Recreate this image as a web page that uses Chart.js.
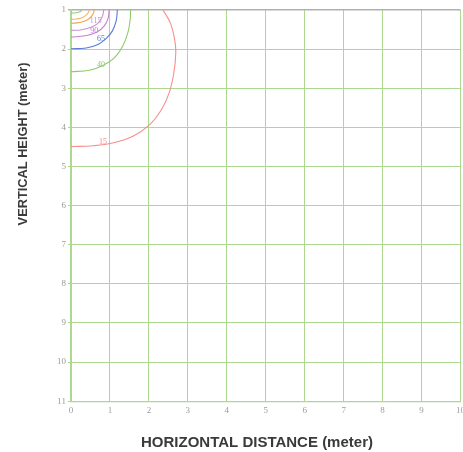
<!DOCTYPE html>
<html>
<head>
<meta charset="utf-8">
<script src="https://cdn.jsdelivr.net/npm/chart.js@4.4.1/dist/chart.umd.min.js"></script>
<style>
  html, body { margin: 0; padding: 0; background: #fff; overflow: hidden; }
  #wrap { width: 469px; height: 452px; }
</style>
</head>
<body>
<div id="wrap"><canvas id="isoChart"></canvas></div>
<script>
// contour values, one per curve, outer to inner
const levels = [15, 40, 65, 90, 115, 140, 165, 190];
const lineColors = ["#f48f8a", "#8ccc6a", "#5b7bd5", "#c67fd2", "#c990d6", "#f2a64e", "#f5b46a", "#93cf72"];

// curve points (x = distance, y = height)
const curveX = [
  [2.36, 2.55, 2.66, 2.69, 2.64, 2.52, 2.32, 2.02, 1.59, 1.07, 0.56, 0],
  [1.53, 1.52, 1.46, 1.33, 1.12, 0.82, 0.47, 0],
  [1.19, 1.16, 1.06, 0.90, 0.69, 0.39, 0],
  [0.98, 0.95, 0.85, 0.67, 0.36, 0],
  [0.84, 0.80, 0.69, 0.50, 0.25, 0],
  [0.60, 0.55, 0.43, 0.22, 0],
  [0.47, 0.42, 0.30, 0.15, 0],
  [0.28, 0.24, 0.14, 0]
];
const curveY = [
  [1.0, 1.33, 1.75, 2.09, 2.61, 3.12, 3.55, 3.93, 4.23, 4.40, 4.47, 4.49],
  [1.0, 1.24, 1.58, 1.92, 2.22, 2.42, 2.54, 2.58],
  [1.0, 1.28, 1.54, 1.73, 1.88, 1.97, 1.99],
  [1.0, 1.22, 1.41, 1.56, 1.66, 1.69],
  [1.0, 1.18, 1.34, 1.45, 1.51, 1.52],
  [1.0, 1.13, 1.25, 1.32, 1.34],
  [1.0, 1.10, 1.19, 1.23, 1.24],
  [1.0, 1.04, 1.07, 1.08]
];

// where the value labels sit on the outer curves
const labelX = [0.82, 0.77, 0.77, 0.60, 0.63];
const labelY = [4.38, 2.41, 1.75, 1.54, 1.28];

const xTicks = [0, 1, 2, 3, 4, 5, 6, 7, 8, 9, 10];
const yTicks = [1, 2, 3, 4, 5, 6, 7, 8, 9, 10, 11];

const xTitle = "HORIZONTAL DISTANCE (meter)";
const yTitle = "VERTICAL HEIGHT (meter)";

const gridGreen = "#acd98f";

const datasets = levels.map((lv, i) => ({
  label: String(lv),
  data: curveX[i].map((x, j) => ({ x: x, y: curveY[i][j] })),
  showLine: true,
  borderColor: lineColors[i],
  borderWidth: 1.1,
  pointRadius: 0,
  tension: 0.4,
  fill: false
}));

// value labels on the curves and the two axis titles
const annotations = {
  id: "annotations",
  afterDatasetsDraw(chart) {
    const { ctx, scales, chartArea } = chart;
    ctx.save();
    ctx.font = "8px 'Liberation Serif'";
    ctx.textAlign = "center";
    ctx.textBaseline = "middle";
    labelX.forEach((lx, i) => {
      ctx.fillStyle = lineColors[i];
      ctx.fillText(String(levels[i]), scales.x.getPixelForValue(lx), scales.y.getPixelForValue(labelY[i]));
    });

    ctx.fillStyle = "#3a3a3a";
    ctx.font = "bold 15px 'Liberation Sans'";
    ctx.fillText(xTitle, chartArea.left + 186, chartArea.bottom + 42);

    ctx.font = "bold 12.8px 'Liberation Sans'";
    ctx.translate(chartArea.left - 48, chartArea.top + 134);
    ctx.rotate(-Math.PI / 2);
    ctx.fillText(yTitle, 0, 0);
    ctx.restore();
  }
};

new Chart(document.getElementById("isoChart"), {
  type: "scatter",
  data: { datasets },
  plugins: [annotations],
  options: {
    responsive: true,
    maintainAspectRatio: false,
    animation: false,
    layout: { padding: { top: 10, right: 0, bottom: 32, left: 55 } },
    plugins: {
      legend: { display: false },
      tooltip: { enabled: false }
    },
    scales: {
      x: {
        type: "linear",
        min: 0,
        max: 10,
        afterBuildTicks: axis => { axis.ticks = xTicks.map(v => ({ value: v })); },
        grid: { color: gridGreen, lineWidth: 1, drawTicks: false },
        border: { color: gridGreen, width: 1.2 },
        ticks: {
          padding: 4,
          color: "#9a9a9a",
          font: { family: "'Liberation Serif'", size: 9 }
        }
      },
      y: {
        type: "linear",
        reverse: true,
        min: 1,
        max: 11,
        afterBuildTicks: axis => { axis.ticks = yTicks.map(v => ({ value: v })); },
        grid: {
          color: c => (c.tick && c.tick.value === 1 ? "#b0b0b0" : gridGreen),
          lineWidth: c => (c.tick && c.tick.value === 1 ? 1.6 : 1),
          tickLength: 3
        },
        border: { color: gridGreen, width: 1.2 },
        ticks: {
          padding: 2,
          color: "#9a9a9a",
          font: { family: "'Liberation Serif'", size: 9 }
        }
      }
    }
  }
});
</script>
</body>
</html>
